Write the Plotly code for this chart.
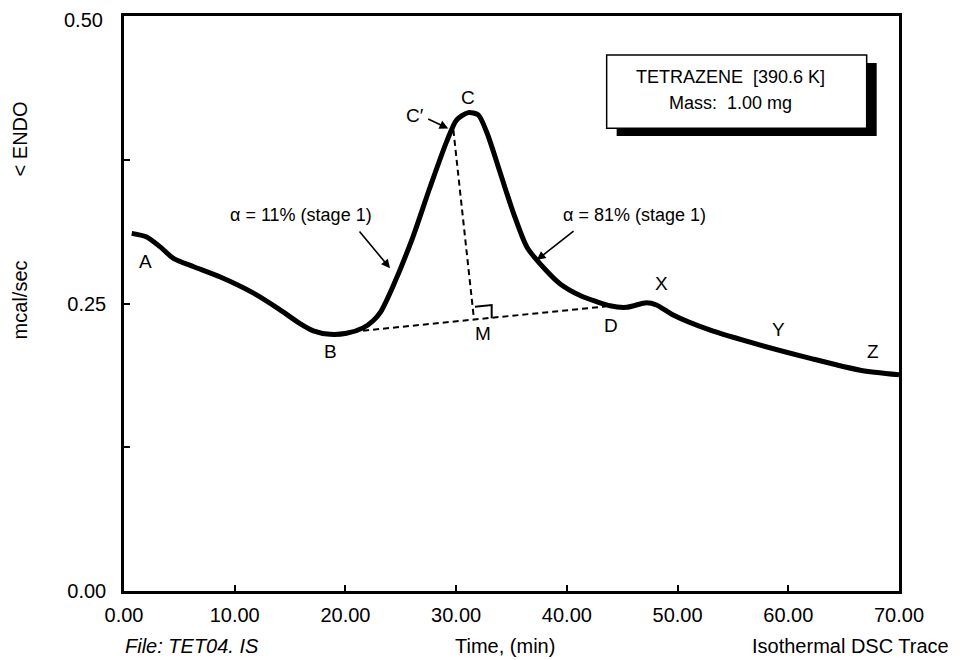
import plotly.graph_objects as go

# ---- data ----
time_min = [0.7, 2.0, 3.3, 4.5, 6.3, 8.7, 11.7, 14.1, 15.9, 17.1, 18.6, 20.1, 21.6, 22.5,
            23.2, 24.3, 26.1, 27.6, 29.15, 30.05, 31.1, 32.0, 32.8, 34.0, 35.2, 36.4,
            38.2, 39.4, 41.2, 43.9, 45.4, 47.2, 48.1, 49.6, 52.9, 57.4, 62.0, 66.5, 70.0]
heat_flow = [0.311, 0.308, 0.299, 0.289, 0.282, 0.273, 0.259, 0.2445, 0.2325, 0.2262,
             0.2232, 0.2241, 0.2288, 0.2350, 0.2430, 0.2650, 0.308, 0.350, 0.391, 0.4096,
             0.416, 0.414, 0.398, 0.363, 0.328, 0.299, 0.278, 0.267, 0.257, 0.248, 0.2467,
             0.2507, 0.2487, 0.240, 0.227, 0.214, 0.2023, 0.192, 0.188]

baseline_x = [20.7, 43.5]           # B -> D
baseline_y = [0.2255, 0.2475]
perp_x = [29.75, 31.62]             # C' -> M
perp_y = [0.4009, 0.2355]
rightangle_x = [31.70, 33.21, 33.21]
rightangle_y = [0.2472, 0.2487, 0.2371]

point_labels = ["A", "B", "C", "C′", "M", "D", "X", "Y", "Z"]
point_x = [1.9, 18.61, 31.07, 26.3, 32.45, 43.99, 48.57, 59.14, 67.68]
point_y = [0.2863, 0.2081, 0.4287, 0.4139, 0.2241, 0.2313, 0.2676, 0.2270, 0.2081]

x_ticks = [0, 10, 20, 30, 40, 50, 60, 70]
x_ticktext = ["0.00", "10.00", "20.00", "30.00", "40.00", "50.00", "60.00", "70.00"]
y_ticks = [0, 0.125, 0.25, 0.375, 0.5]
y_ticktext = ["0.00", "", "0.25", "", ""]
y_top_label = "0.50"

FONT = "Liberation Sans, Arial, Helvetica, sans-serif"

fig = go.Figure()
fig.add_trace(go.Scatter(x=baseline_x, y=baseline_y, mode="lines",
                         line=dict(color="black", width=2, dash="6px,4px"), hoverinfo="skip"))
fig.add_trace(go.Scatter(x=perp_x, y=perp_y, mode="lines",
                         line=dict(color="black", width=2, dash="6px,4px"), hoverinfo="skip"))
fig.add_trace(go.Scatter(x=rightangle_x, y=rightangle_y, mode="lines",
                         line=dict(color="black", width=2), hoverinfo="skip"))
fig.add_trace(go.Scatter(x=time_min, y=heat_flow, mode="lines",
                         line=dict(color="black", width=5, shape="spline", smoothing=0.7)))

C = dict(xanchor="center", yanchor="middle", showarrow=False)
ann = []
for t, x, y in zip(point_labels, point_x, point_y):
    ann.append(dict(x=x, y=y, text=t, font=dict(size=19), **C))

# arrows
for hx, hy, tx, ty in [(29.29, 0.4022, 27.34, 0.411),
                       (24.03, 0.2806, 21.16, 0.3139),
                       (37.28, 0.2878, 40.74, 0.3139)]:
    ann.append(dict(x=hx, y=hy, ax=tx, ay=ty, axref="x", ayref="y", text="",
                    showarrow=True, arrowhead=2, arrowsize=1.1, arrowwidth=1.6,
                    arrowcolor="black"))
ann.append(dict(x=16.0, y=0.327, text="α = 11% (stage 1)", font=dict(size=18), **C))
ann.append(dict(x=46.15, y=0.327, text="α = 81% (stage 1)", font=dict(size=18), **C))

# info box text
ann.append(dict(x=0.782, y=0.8944, xref="paper", yref="paper", text="TETRAZENE  [390.6 K]",
                font=dict(size=18), **C))
ann.append(dict(x=0.782, y=0.8482, xref="paper", yref="paper", text="Mass:  1.00 mg",
                font=dict(size=18), **C))

# top y tick label (slightly below the frame top, as in the original)
ann.append(dict(x=-0.0245, y=0.993, xref="paper", yref="paper", text=y_top_label,
                xanchor="right", yanchor="middle", showarrow=False, font=dict(size=20)))

# bottom texts
ann.append(dict(x=0.0871, y=-0.0957, xref="paper", yref="paper", text="<i>File: TET04. IS</i>",
                font=dict(size=20), **C))
ann.append(dict(x=0.4916, y=-0.0957, xref="paper", yref="paper", text="Time, (min)",
                font=dict(size=20), **C))
ann.append(dict(x=0.938, y=-0.0957, xref="paper", yref="paper", text="Isothermal DSC Trace",
                font=dict(size=20), **C))
# left titles
ann.append(dict(x=-0.133, y=0.787, xref="paper", yref="paper", text="< ENDO", textangle=-90,
                font=dict(size=20), **C))
ann.append(dict(x=-0.133, y=0.507, xref="paper", yref="paper", text="mcal/sec", textangle=-90,
                font=dict(size=20), **C))

shapes = [
    dict(type="rect", xref="paper", yref="paper", x0=0.6357, x1=0.9712, y0=0.7913, y1=0.9183,
         fillcolor="black", line=dict(width=0)),
    dict(type="rect", xref="paper", yref="paper", x0=0.6228, x1=0.9583, y0=0.8047, y1=0.9322,
         fillcolor="white", line=dict(color="black", width=1.5)),
]

# the page body has an 8px default margin: size and margins compensate for it
fig.update_layout(
    width=955, height=652,
    margin=dict(l=116, r=64, t=8, b=69, autoexpand=False),
    paper_bgcolor="white", plot_bgcolor="white",
    showlegend=False,
    font=dict(family=FONT, size=18, color="black"),
    annotations=ann, shapes=shapes,
)
fig.update_xaxes(range=[0, 70], tickvals=x_ticks, ticktext=x_ticktext, ticks="inside",
                 ticklen=6, tickwidth=1.5, tickcolor="black", showline=True, linecolor="black",
                 linewidth=2.5, mirror=True, showgrid=False, zeroline=False, automargin=False,
                 tickfont=dict(size=20), ticklabelstandoff=4, ticklabeloverflow="allow")
fig.update_yaxes(range=[0, 0.5], tickvals=y_ticks, ticktext=y_ticktext, ticks="inside",
                 ticklen=6, tickwidth=1.5, tickcolor="black", showline=True, linecolor="black",
                 linewidth=2.5, mirror=True, showgrid=False, zeroline=False, automargin=False,
                 tickfont=dict(size=20), ticklabelstandoff=11, ticklabeloverflow="allow")

fig.write_html("out.html")
